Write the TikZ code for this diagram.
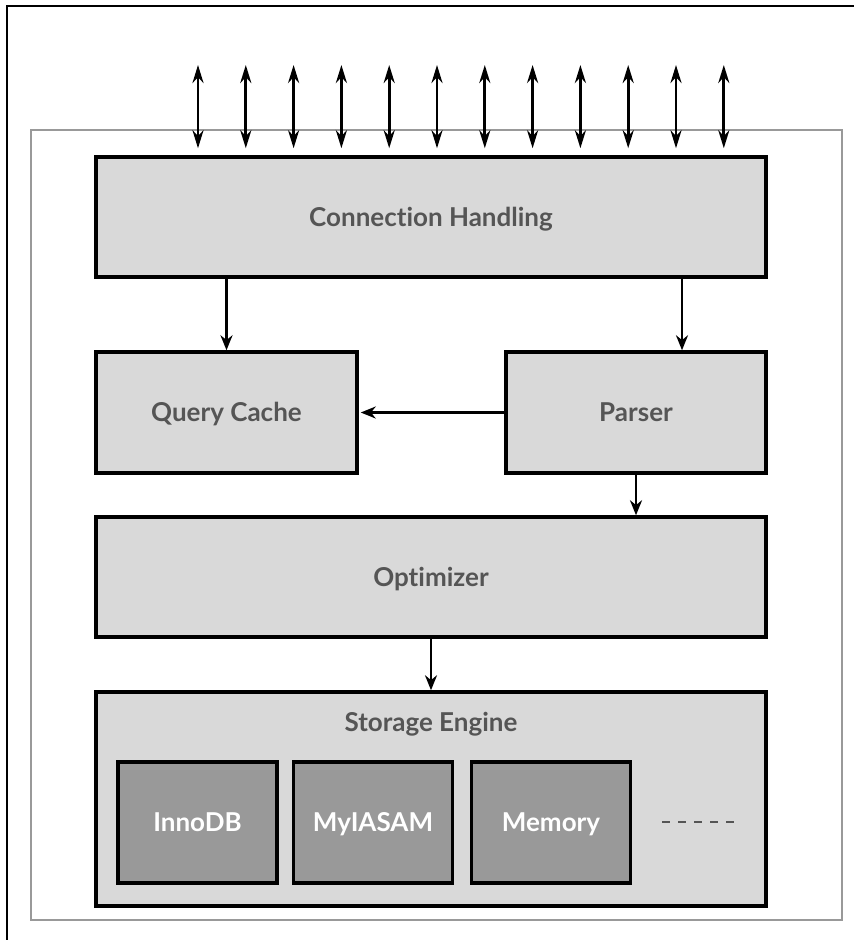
\documentclass[tikz,border=0pt]{standalone}
\usepackage{fontspec}
\setmainfont{Lato}[Ligatures=NoCommon]
\usepackage{tikz}
\usetikzlibrary{arrows.meta}
\definecolor{boxgray}{HTML}{D9D9D9}
\definecolor{enggray}{HTML}{999999}
\definecolor{txtgray}{HTML}{555555}
\tikzset{
  label font/.style={font=\bfseries\fontsize{26}{30}\selectfont,text height=18.7pt,text depth=0pt},
  layer/.style={draw,line width=3.5pt,fill=boxgray,text=txtgray,label font},
  engine/.style={layer,fill=enggray,text=white,minimum width=159pt,minimum height=121pt},
  flow/.style={-{Stealth[length=15pt,width=12pt]},line width=2.8pt},
  link/.style={{Stealth[length=18pt,width=11pt]}-{Stealth[length=18pt,width=11pt]},line width=2.8pt}
}
\begin{document}
\begin{tikzpicture}[x=1pt,y=-1pt]
\useasboundingbox (0,0) rectangle (854,940);
\draw[line width=2.5pt](7,940)--(7,6)--(854,6);
\draw[black!40,line width=1.3pt](31,130) rectangle (842,920);
% layers
\node[layer,minimum width=670pt,minimum height=120pt](conn) at (431,217){Connection Handling};
\node[layer,minimum width=261pt,minimum height=121pt](qcache) at (226.5,412.5){Query Cache};
\node[layer,minimum width=260pt,minimum height=121pt](parser) at (636,412.5){Parser};
\node[layer,minimum width=670pt,minimum height=120pt](opt) at (431,577){Optimizer};
\node[layer,minimum width=670pt,minimum height=214pt](storage) at (431,799){};
\node[text=txtgray,label font](selabel) at (431,722){Storage Engine};
\node[engine](inno) at (197.5,822.5){InnoDB};
\node[engine](myisam) at (373,822.5){MyIASAM};
\node[engine](mem) at (551,822.5){Memory};
\draw[txtgray,line width=2.5pt,dash pattern=on 8pt off 8pt](662,822)--(738,822);
% clients
\foreach \i in {0,...,11}{
  \coordinate (top\i) at (198+47.8*\i,65);
  \draw[link](top\i)--([yshift=7pt]top\i |- conn.north);
}
% flow
\draw[flow](conn.south -| qcache.north)--(qcache.north);
\draw[flow]([xshift=46pt]parser.north |- conn.south)--([xshift=46pt]parser.north);
\draw[flow,shorten >=2pt](parser.west)--(qcache.east);
\draw[flow](parser.south)--(parser.south |- opt.north);
\draw[flow](opt.south)--(storage.north);
\end{tikzpicture}
\end{document}
